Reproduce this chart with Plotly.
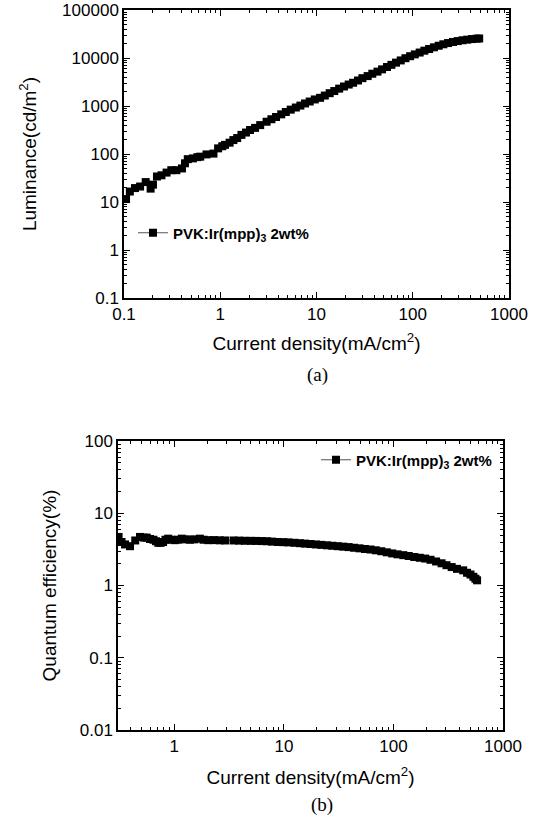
import plotly.graph_objects as go

# ---------------- data ----------------
lum_j = [0.105, 0.115, 0.13, 0.147, 0.168, 0.189, 0.20, 0.22, 0.245, 0.277,
         0.31, 0.35, 0.40, 0.43, 0.46, 0.52, 0.58, 0.62, 0.72, 0.85,
         0.95, 1.05, 1.12, 1.25, 1.37, 1.5, 1.66, 1.85, 2.04, 2.3,
         2.6, 3.03, 3.4, 3.8, 4.3, 4.8, 5.4, 6.1, 6.8, 7.6,
         8.5, 9.6, 10.9, 12.2, 13.7, 15.3, 17.2, 19.3, 21.6, 24,
         27, 30, 34, 38, 43, 48, 54, 60, 67, 75,
         84, 94, 105, 118, 132, 148, 166, 186, 208, 233,
         262, 293, 329, 368, 412, 462, 490]
lum_l = [11.5, 16.5, 19.5, 21, 26, 19, 23, 34, 36, 41,
         46, 46, 50, 64, 78, 81, 86, 88, 98, 102,
         131, 145, 155, 172, 195, 215, 250, 280, 316, 350,
         400, 470, 530, 590, 670, 750, 840, 930, 1020, 1130,
         1240, 1370, 1480, 1650, 1850, 2050, 2300, 2550, 2800, 3050,
         3400, 3800, 4200, 4700, 5200, 5800, 6500, 7200, 8000, 8900,
         9900, 10900, 11900, 13000, 14200, 15400, 16700, 18000, 19300, 20500,
         21600, 22500, 23400, 24100, 24800, 25300, 25500]

qe_j = [0.31, 0.33, 0.355, 0.394, 0.44, 0.486, 0.53, 0.56, 0.6, 0.645,
        0.68, 0.715, 0.75, 0.79, 0.83, 0.88, 0.94, 1.01, 1.08, 1.17,
        1.27, 1.39, 1.52, 1.71, 1.85, 2.04, 2.3, 2.6, 2.9, 3.47,
        3.9, 4.4, 5.0, 5.6, 6.3, 7.0, 7.8, 8.8, 9.9, 11,
        12.5, 14, 15.6, 17.5, 19.6, 22, 24.7, 27.7, 31, 34.8,
        39, 43.7, 49, 55, 61.7, 69, 77.5, 87, 97.5, 109,
        123, 138, 155, 174, 195, 218, 245, 275, 305, 340,
        380, 433, 470, 505, 537, 560, 580]
qe_v = [4.7, 4.0, 3.7, 3.5, 4.2, 4.7, 4.6, 4.6, 4.4, 4.3,
        4.1, 3.9, 3.9, 4.0, 4.3, 4.45, 4.3, 4.24, 4.3, 4.45,
        4.35, 4.3, 4.35, 4.45, 4.3, 4.24, 4.25, 4.22, 4.2, 4.2,
        4.18, 4.16, 4.15, 4.14, 4.12, 4.1, 4.05, 4.0, 3.98, 3.95,
        3.9, 3.85, 3.8, 3.75, 3.7, 3.65, 3.6, 3.55, 3.5, 3.45,
        3.4, 3.33, 3.27, 3.2, 3.15, 3.07, 2.98, 2.88, 2.78, 2.7,
        2.63, 2.56, 2.48, 2.42, 2.36, 2.27, 2.15, 2.03, 1.91, 1.8,
        1.7, 1.62, 1.5, 1.42, 1.32, 1.24, 1.18]

series_name = "PVK:Ir(mpp)<sub>3</sub> 2wt%"

x1_ticks = [0.1, 1, 10, 100, 1000]
x1_text = ["0.1", "1", "10", "100", "1000"]
y1_ticks = [0.1, 1, 10, 100, 1000, 10000, 100000]
y1_text = ["0.1", "1", "10", "100", "1000", "10000", "100000"]
x2_ticks = [1, 10, 100, 1000]
x2_text = ["1", "10", "100", "1000"]
y2_ticks = [0.01, 0.1, 1, 10, 100]
y2_text = ["0.01", "0.1", "1", "10", "100"]

# ---------------- figure ----------------
W, H = 539, 817
FONT = "Liberation Sans"
SERIF = "Liberation Serif"


def minor_vals(lo_exp, hi_exp):
    v = []
    for e in range(lo_exp, hi_exp):
        for m in range(2, 10):
            v.append(m * 10 ** e)
    return v


def px_x(a, b):
    return [a / W, b / W]


def px_y(top, bottom):
    return [1 - bottom / H, 1 - top / H]


fig = go.Figure()

fig.add_trace(go.Scatter(
    x=lum_j, y=lum_l, mode="lines+markers", name=series_name,
    marker=dict(symbol="square", size=8, color="black"),
    line=dict(color="#555", width=1), showlegend=True,
    xaxis="x", yaxis="y", legend="legend"))

fig.add_trace(go.Scatter(
    x=qe_j, y=qe_v, mode="lines+markers", name=series_name,
    marker=dict(symbol="square", size=8, color="black"),
    line=dict(color="#555", width=1), showlegend=True,
    xaxis="x2", yaxis="y2", legend="legend2"))

axis_common = dict(
    type="log", showline=True, linecolor="black", linewidth=1.5,
    mirror="allticks", ticks="inside", ticklen=6, tickwidth=1.2,
    tickcolor="black", showgrid=False, zeroline=False,
    tickfont=dict(family=FONT, size=17, color="black"),
    automargin=False,
)


def minor(lo, hi):
    return dict(tickvals=minor_vals(lo, hi), ticks="inside", ticklen=3,
                tickcolor="black", showgrid=False)


legend_font = dict(family=FONT, size=15, color="black", weight="bold")

fig.update_layout(
    width=W, height=H,
    margin=dict(l=0, r=0, t=0, b=0),
    paper_bgcolor="white", plot_bgcolor="white",
    font=dict(family=FONT, color="black", size=17),
    showlegend=True,
    xaxis=dict(**axis_common, domain=px_x(124, 509), anchor="y",
               range=[-1, 3], tickvals=x1_ticks, ticktext=x1_text,
               minor=minor(-1, 3),
               title=dict(text="Current density(mA/cm<sup>2</sup>)",
                          font=dict(family=FONT, size=19), standoff=14)),
    yaxis=dict(**axis_common, domain=px_y(10, 298), anchor="x",
               range=[-1, 5], tickvals=y1_ticks, ticktext=y1_text,
               minor=minor(-1, 5),
               title=dict(text="Luminance(cd/m<sup>2</sup>)",
                          font=dict(family=FONT, size=19), standoff=20)),
    xaxis2=dict(**axis_common, domain=px_x(118, 503), anchor="y2",
                range=[-0.514, 3], tickvals=x2_ticks, ticktext=x2_text,
                minor=minor(-1, 3),
                title=dict(text="Current density(mA/cm<sup>2</sup>)",
                           font=dict(family=FONT, size=19), standoff=16)),
    yaxis2=dict(**axis_common, domain=px_y(441, 730), anchor="x2",
                range=[-2, 2], tickvals=y2_ticks, ticktext=y2_text,
                minor=minor(-2, 2),
                title=dict(text="Quantum efficiency(%)",
                           font=dict(family=FONT, size=19), standoff=18)),
    legend=dict(x=133 / W, y=1 - 233 / H, xanchor="left", yanchor="middle",
                xref="paper", yref="paper",
                bgcolor="rgba(0,0,0,0)", borderwidth=0, itemwidth=30,
                font=legend_font),
    legend2=dict(x=316 / W, y=1 - 460 / H, xanchor="left", yanchor="middle",
                 xref="paper", yref="paper",
                 bgcolor="rgba(0,0,0,0)", borderwidth=0, itemwidth=30,
                 font=legend_font),
    annotations=[
        dict(text="(a)", x=317 / W, y=1 - 375 / H, xref="paper", yref="paper",
             xanchor="center", yanchor="middle", showarrow=False,
             font=dict(family=SERIF, size=19, color="black")),
        dict(text="(b)", x=322 / W, y=1 - 805 / H, xref="paper", yref="paper",
             xanchor="center", yanchor="middle", showarrow=False,
             font=dict(family=SERIF, size=19, color="black")),
    ],
)

fig.write_html("out.html")
